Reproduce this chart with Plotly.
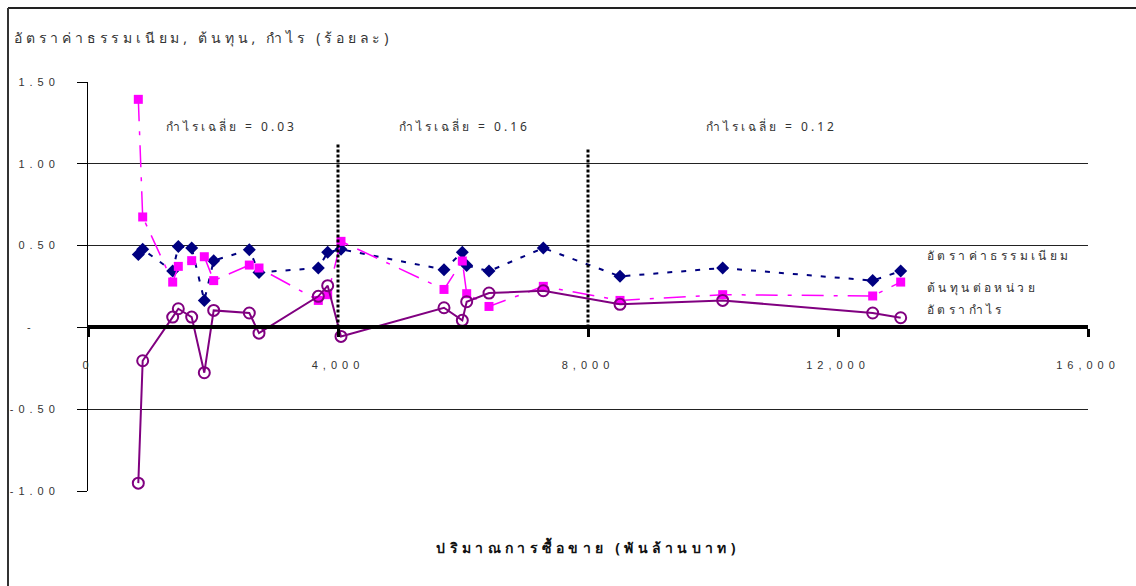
import plotly.graph_objects as go

# Trading volume (billion baht) and rates (percent)
volume = [805, 875, 1355, 1445, 1659, 1861, 2011, 2581, 2736, 3685, 3835, 4048,
          5696, 5989, 6059, 6416, 7285, 8512, 10155, 12555, 13003]
fee_rate = [0.445, 0.477, 0.344, 0.495, 0.485, 0.165, 0.408, 0.475, 0.336, 0.363, 0.459, 0.477,
            0.353, 0.459, 0.379, 0.344, 0.485, 0.312, 0.363, 0.286, 0.344]
unit_cost = [1.394, 0.675, 0.277, 0.373, 0.408, 0.432, 0.286, 0.381, 0.363, 0.165, 0.200, 0.526,
             0.232, 0.406, 0.206, 0.128, 0.251, 0.165, 0.200, 0.192, 0.277]
profit_rate = [-0.952, -0.204, 0.063, 0.114, 0.063, -0.277, 0.104, 0.088, -0.035, 0.190, 0.255, -0.055,
               0.120, 0.043, 0.157, 0.210, 0.224, 0.141, 0.165, 0.088, 0.059]

series_names = ["อัตราค่าธรรมเนียม", "ต้นทุนต่อหน่วย", "อัตรากำไร"]
y_tickvals = [-1.0, -0.5, 0.0, 0.5, 1.0, 1.5]
y_ticktext = ["-1.00", "-0.50", "-\u00a0\u00a0\u00a0", "0.50", "1.00", "1.50"]
x_tickvals = [0, 4000, 8000, 12000, 16000]
x_ticktext = ["0", "4,000", "8,000", "12,000", "16,000"]
period_breaks = [4000, 8000]
avg_profit_labels = ["กำไรเฉลี่ย = 0.03", "กำไรเฉลี่ย = 0.16", "กำไรเฉลี่ย = 0.12"]
avg_label_x = [2300, 6030, 10940]

THAI = "Noto Sans, DejaVu Sans, Liberation Sans, sans-serif"
NUM = "Liberation Sans, Arial, sans-serif"

fig = go.Figure()

fig.add_trace(go.Scatter(
    x=volume, y=fee_rate, mode="lines+markers", name=series_names[0],
    line=dict(color="#000080", width=2, dash="5px,9px"),
    marker=dict(symbol="diamond", size=10, color="#000080"),
))
fig.add_trace(go.Scatter(
    x=volume, y=unit_cost, mode="lines+markers", name=series_names[1],
    line=dict(color="#FF00FF", width=1.5, dash="22px,10px,4px,10px"),
    marker=dict(symbol="square", size=9, color="#FF00FF"),
))
fig.add_trace(go.Scatter(
    x=volume, y=profit_rate, mode="lines+markers", name=series_names[2],
    line=dict(color="#800080", width=2),
    marker=dict(symbol="circle-open", size=11, color="#800080", line=dict(width=2)),
))

# dotted separators between volume periods
for xb, top in zip(period_breaks, [1.125, 1.10]):
    fig.add_shape(type="line", xref="x", yref="y", x0=xb, x1=xb, y0=0, y1=top,
                  line=dict(color="black", width=3, dash="3px,2px"), layer="above")

# average-profit captions per period
for text, xc in zip(avg_profit_labels, avg_label_x):
    fig.add_annotation(x=xc, y=1.225, xref="x", yref="y", text=text, showarrow=False,
                       font=dict(family=THAI, size=12, color="#333333"))

# series labels at the right end
for text, yv in zip(series_names, [0.44, 0.245, 0.11]):
    fig.add_annotation(x=0.837, y=yv, xref="paper", yref="y", text=text, showarrow=False,
                       xanchor="left", font=dict(family=THAI, size=12, color="#333333"))

# chart title and x-axis caption
fig.add_annotation(x=-0.076, y=1.1076, xref="paper", yref="paper", xanchor="left", yanchor="middle",
                   text="อัตราค่าธรรมเนียม, ต้นทุน, กำไร (ร้อยละ)", showarrow=False,
                   font=dict(family=THAI, size=14, color="#333333"))
fig.add_annotation(x=0.5, y=-0.137, xref="paper", yref="paper", yanchor="middle",
                   text="<b>ปริมาณการซื้อขาย (พันล้านบาท)</b>", showarrow=False,
                   font=dict(family=THAI, size=14, color="#111111"))

# outer frame (top and left edges)
fig.add_shape(type="line", xref="paper", yref="paper", x0=-0.08, x1=1.05, y0=1.181, y1=1.181,
              line=dict(color="#222222", width=2))
fig.add_shape(type="line", xref="paper", yref="paper", x0=-0.08, x1=-0.08, y0=1.181, y1=-0.24,
              line=dict(color="#333333", width=2))

fig.update_layout(
    width=1136, height=586,
    margin=dict(l=88, r=48, t=82, b=95),
    paper_bgcolor="white", plot_bgcolor="white",
    showlegend=False,
    xaxis=dict(
        range=[0, 16000], tickvals=x_tickvals, ticktext=x_ticktext,
        anchor="free", position=0.4, showline=True, linecolor="black", linewidth=4,
        ticks="outside", ticklen=8, tickwidth=3, tickcolor="black",
        ticklabelstandoff=18, showgrid=False, zeroline=False,
        tickfont=dict(family=NUM, size=11, color="#333333"),
    ),
    yaxis=dict(
        range=[-1.0, 1.5], tickvals=y_tickvals, ticktext=y_ticktext,
        showline=True, linecolor="black", linewidth=1, mirror=False,
        ticks="outside", ticklen=10, tickwidth=1, tickcolor="black",
        ticklabelstandoff=15, showgrid=True, gridcolor="#222222", gridwidth=1,
        zeroline=False,
        tickfont=dict(family=NUM, size=11, color="#333333"),
    ),
)

# widen character spacing of the chart's lettering; left-anchored
# annotations (series labels and title) keep their left edge in place
spacing_js = """
var gd = document.getElementById('{plot_id}');
gd.querySelectorAll('.xtick text, .ytick text').forEach(function (t) {
  t.style.letterSpacing = '5px';
});
var widths = ['3px', '3px', '3px', '3.4px', '3.4px', '3.4px', '3.8px', '4.3px'];
var keepLeft = [3, 4, 5, 6];
gd.querySelectorAll('.annotation-text').forEach(function (t, i) {
  var before = t.getBBox();
  t.style.letterSpacing = widths[i] || '3px';
  if (keepLeft.indexOf(i) >= 0) {
    var after = t.getBBox();
    var x0 = parseFloat(t.getAttribute('x')) || 0;
    t.setAttribute('x', x0 + (before.x - after.x));
  }
});
"""

fig.write_html("out.html", post_script=spacing_js)
